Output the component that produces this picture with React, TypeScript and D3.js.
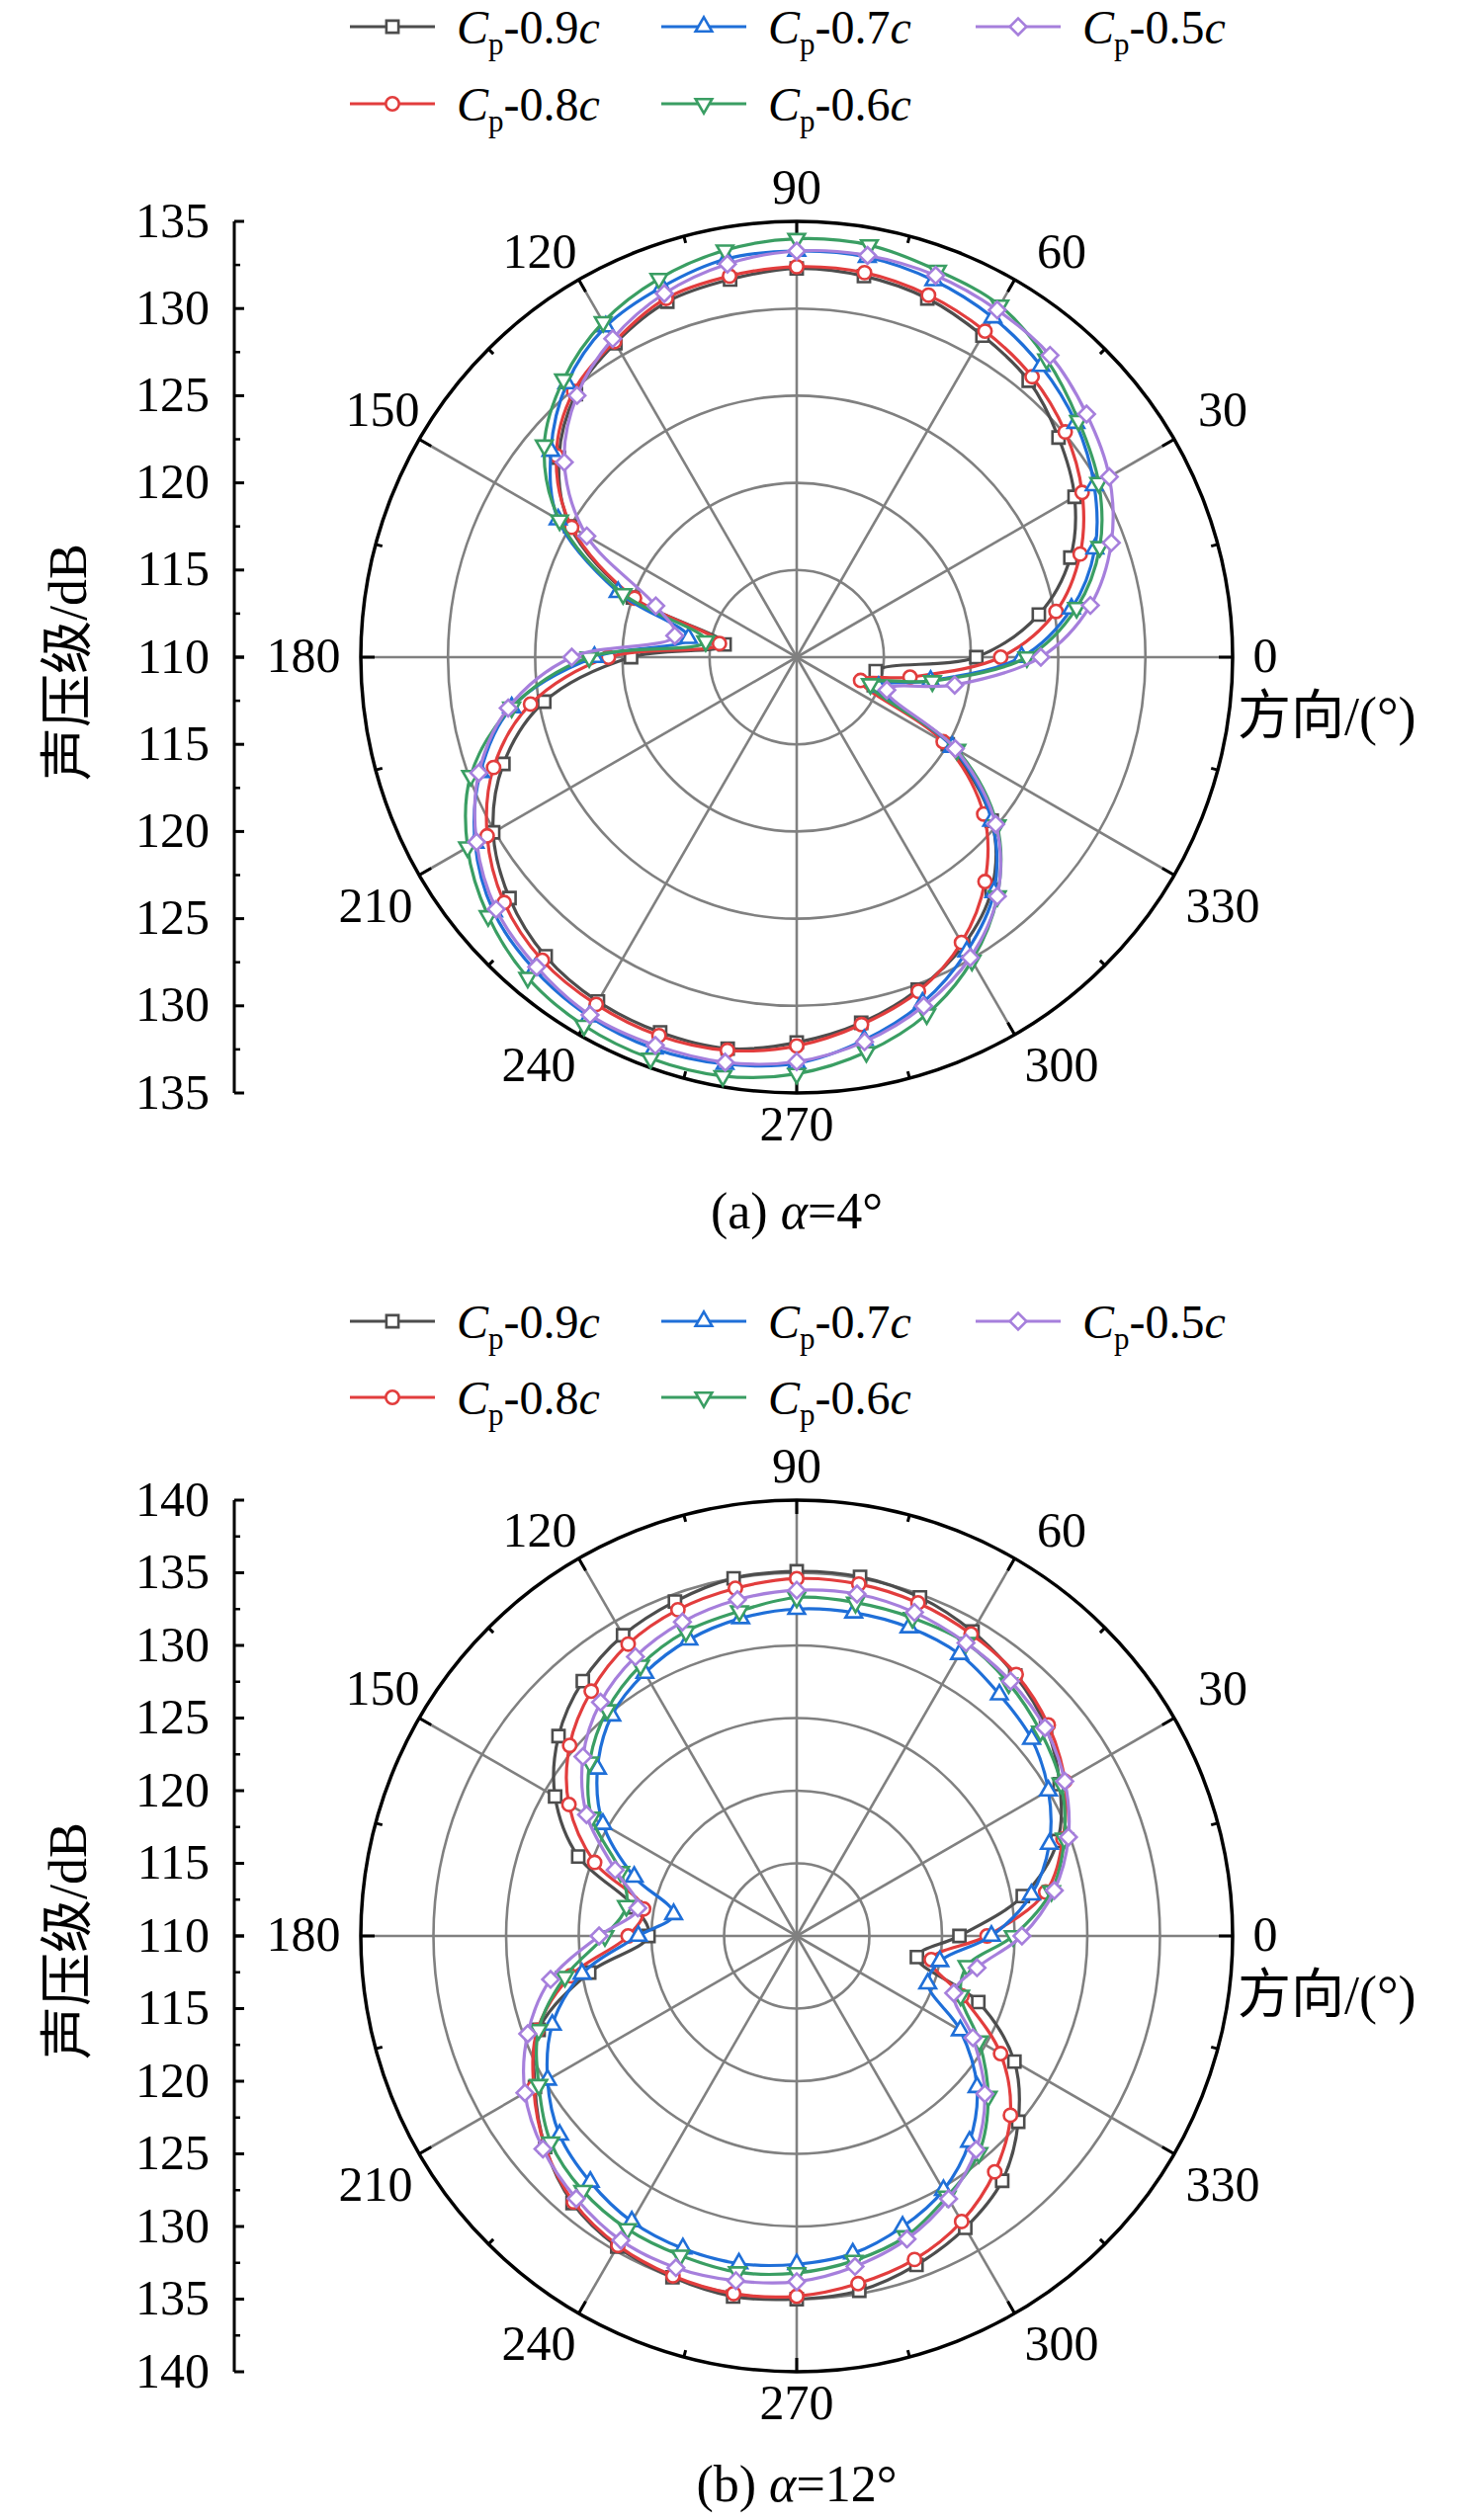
import React from 'react';
import * as d3 from 'd3';

// directions, degrees (0 = right, counter-clockwise)
const ANGLES = [0, 10, 20, 30, 40, 50, 60, 70, 80, 90, 100, 110, 120, 130, 140, 150, 160, 170,
  180, 190, 200, 210, 220, 230, 240, 250, 260, 270, 280, 290, 300, 310, 320, 330, 340, 350];
const ANGLE_LABELS = [0, 30, 60, 90, 120, 150, 180, 210, 240, 270, 300, 330];

const SERIES_KEYS = ['0.9', '0.8', '0.7', '0.6', '0.5'];

// (a) alpha = 4 deg, SPL in dB
const A_09 = [120.3, 124.1, 126.7, 128.4, 129.6, 130.7, 131.3, 131.9, 132.2, 132.3, 132.0, 131.7,
  130.8, 129.7, 127.8, 125.0, 120.0, 114.2, 119.5, 124.7, 127.9, 130.1, 131.5, 132.4,
  132.8, 132.9, 132.8, 132.1, 131.3, 130.3, 129.1, 127.4, 124.6, 120.0, 114.7, 114.6];
const A_08 = [121.7, 125.1, 127.3, 128.9, 130.1, 131.0, 131.6, 132.1, 132.4, 132.4, 132.2, 131.9,
  130.9, 129.9, 128.0, 124.9, 119.9, 114.5, 120.8, 125.5, 128.5, 130.5, 131.9, 132.7,
  133.0, 133.1, 132.9, 132.3, 131.4, 130.4, 128.9, 126.8, 124.0, 119.7, 113.9, 116.6];
const A_07 = [122.9, 126.0, 128.2, 129.7, 130.9, 131.8, 132.5, 133.0, 133.3, 133.3, 133.2, 132.6,
  131.9, 130.5, 128.4, 125.8, 120.9, 116.3, 121.6, 126.6, 129.3, 131.3, 132.7, 133.4,
  133.8, 133.9, 133.7, 133.3, 132.3, 131.1, 129.5, 127.6, 124.6, 120.3, 115.0, 117.8];
const A_06 = [123.2, 126.3, 128.5, 130.0, 131.1, 132.3, 133.3, 133.6, 134.0, 134.0, 133.7, 133.1,
  132.2, 130.8, 128.9, 125.7, 120.6, 115.3, 121.9, 126.6, 129.9, 131.8, 133.1, 134.0,
  134.4, 134.5, 134.4, 133.9, 133.0, 131.8, 130.1, 127.9, 125.0, 120.6, 114.5, 117.9];
const A_05 = [124.0, 127.1, 129.2, 130.7, 131.7, 132.6, 133.0, 133.3, 133.4, 133.3, 132.9, 132.2,
  131.1, 129.6, 127.4, 123.9, 118.6, 117.1, 122.9, 126.8, 129.4, 131.2, 132.5, 133.2,
  133.7, 133.7, 133.6, 133.2, 132.4, 131.3, 129.9, 127.9, 124.9, 120.5, 115.5, 119.2];

// (b) alpha = 12 deg
const B_09 = [121.2, 125.8, 129.1, 130.9, 132.4, 133.4, 134.2, 134.8, 135.1, 135.1, 135.0, 134.5,
  133.9, 132.9, 131.4, 129.2, 126.0, 121.3, 120.2, 124.5, 128.9, 130.8, 132.6, 134.0,
  134.7, 135.0, 135.2, 135.0, 134.8, 134.1, 133.2, 132.0, 129.9, 127.3, 123.3, 118.4];
const B_08 = [123.1, 127.4, 129.5, 131.3, 132.6, 133.5, 134.0, 134.4, 134.6, 134.6, 134.3, 133.9,
  133.2, 132.0, 130.4, 128.1, 124.8, 120.7, 121.6, 125.8, 129.0, 130.9, 132.6, 133.9,
  134.6, 134.9, 135.0, 134.8, 134.3, 133.7, 132.7, 131.2, 129.2, 126.2, 122.1, 119.4];
const B_07 = [123.4, 126.4, 128.5, 130.0, 131.1, 131.7, 132.4, 132.6, 132.6, 132.5, 132.2, 131.7,
  130.9, 129.8, 127.9, 125.4, 121.9, 118.6, 120.9, 125.0, 127.9, 129.8, 131.3, 132.1,
  132.7, 132.9, 132.9, 132.6, 132.2, 131.3, 130.2, 128.5, 126.2, 123.0, 119.6, 120.0];
const B_06 = [124.9, 127.8, 129.6, 131.0, 131.9, 132.7, 133.3, 133.3, 133.3, 133.3, 132.7, 132.3,
  131.5, 130.3, 128.6, 126.3, 122.9, 121.9, 123.2, 126.2, 128.9, 130.5, 132.1, 132.9,
  133.3, 133.4, 133.5, 133.2, 132.7, 132.0, 130.7, 129.5, 127.2, 124.5, 122.0, 121.9];
const B_05 = [125.5, 128.0, 129.9, 131.3, 132.3, 132.9, 133.3, 133.7, 133.9, 133.8, 133.5, 133.0,
  132.2, 131.0, 129.2, 126.7, 123.3, 121.1, 123.6, 127.2, 129.7, 131.6, 132.8, 133.6,
  134.2, 134.3, 134.1, 133.8, 133.1, 132.2, 130.9, 129.2, 126.9, 124.0, 121.5, 122.6];

const COLORS: Record<string, string> = {
  '0.9': '#4d4d4d',
  '0.8': '#e23d3d',
  '0.7': '#1f6fd8',
  '0.6': '#3a9e63',
  '0.5': '#a67fdc',
};

const FONT = "'Liberation Serif', 'Times New Roman', Times, serif";
const CJK_FONT = "'Liberation Serif', 'Noto Sans CJK SC', serif";
const R = 441;
const CX = 806;

// where each angle label's centre sits relative to the pole (Origin puts the box just outside the rim)
const LABEL_POS: Record<number, [number, number]> = {
  0: [474, -3], 30: [431, -252], 60: [268, -412], 90: [0, -477],
  120: [-260, -412], 150: [-419, -252], 180: [-499, -3], 210: [-426, 250],
  240: [-261, 411], 270: [0, 471], 300: [268, 411], 330: [431, 250],
};

const markerPath = (key: string): string => {
  if (key === '0.9') return d3.symbol(d3.symbolSquare, 150)() || '';
  if (key === '0.8') return d3.symbol(d3.symbolCircle, 140)() || '';
  if (key === '0.7' || key === '0.6') return d3.symbol(d3.symbolTriangle, 120)() || '';
  return d3.symbol(d3.symbolSquare, 140)() || '';
};

const markerRotate = (key: string) => (key === '0.6' ? 180 : key === '0.5' ? 45 : 0);

const Marker: React.FC<{ k: string; x: number; y: number }> = ({ k, x, y }) => (
  <path
    d={markerPath(k)}
    transform={`translate(${x},${y}) rotate(${markerRotate(k)})`}
    fill="#ffffff"
    stroke={COLORS[k]}
    strokeWidth={2.6}
  />
);

const LegendLabel: React.FC<{ k: string; x: number; y: number }> = ({ k, x, y }) => (
  <text x={x} y={y} fontFamily={FONT} fontSize={48} fill="#000">
    <tspan fontStyle="italic">C</tspan>
    <tspan fontSize={31} dy={11}>p</tspan>
    <tspan dy={-11}>-{k}</tspan>
    <tspan fontStyle="italic">c</tspan>
  </text>
);

interface PanelProps {
  cy: number;
  domain: [number, number];
  data: number[][];
  legendY: [number, number];
  captionY: number;
  tag: string;
  alphaText: string;
}

const PolarPanel: React.FC<PanelProps> = ({ cy, domain, data, legendY, captionY, tag, alphaText }) => {
  const r = d3.scaleLinear().domain(domain).range([0, R]);
  const ticks = d3.range(domain[0], domain[1] + 0.01, 5);
  const minor = d3.range(domain[0] + 2.5, domain[1], 5);
  const rings = ticks.filter((v) => v > domain[0] && v < domain[1]);
  const rad = (a: number) => (a * Math.PI) / 180;

  const line = d3
    .lineRadial<number>()
    .angle((_, i) => rad(90 - ANGLES[i]))
    .radius((d) => r(d))
    .curve(d3.curveCatmullRomClosed.alpha(0.5));

  const legendCols = [354, 669, 987];
  const legendItems = [
    { k: '0.9', col: 0, row: 0 },
    { k: '0.7', col: 1, row: 0 },
    { k: '0.5', col: 2, row: 0 },
    { k: '0.8', col: 0, row: 1 },
    { k: '0.6', col: 1, row: 1 },
  ];

  return (
    <g>
      {/* legend */}
      {legendItems.map((it) => {
        const x0 = legendCols[it.col];
        const y = legendY[it.row];
        return (
          <g key={it.k}>
            <line x1={x0} x2={x0 + 86} y1={y} y2={y} stroke={COLORS[it.k]} strokeWidth={3} />
            <Marker k={it.k} x={x0 + 43} y={y} />
            <LegendLabel k={it.k} x={x0 + 108} y={y + 17} />
          </g>
        );
      })}

      {/* radial axis on the left */}
      <line x1={237} x2={237} y1={cy - R} y2={cy + R} stroke="#000" strokeWidth={3} />
      {ticks.map((v) => (
        <g key={`t${v}`}>
          {[-1, 1].map((s) => (
            <g key={s}>
              <line x1={237} x2={247} y1={cy + s * r(v)} y2={cy + s * r(v)} stroke="#000" strokeWidth={3} />
              {(v !== domain[0] || s === 1) && (
                <text x={212} y={cy + s * r(v) - 2} dy="0.35em" textAnchor="end" fontFamily={FONT} fontSize={50}>
                  {v}
                </text>
              )}
            </g>
          ))}
        </g>
      ))}
      {minor.map((v) =>
        [-1, 1].map((s) => (
          <line key={`m${v}${s}`} x1={237} x2={243} y1={cy + s * r(v)} y2={cy + s * r(v)} stroke="#000" strokeWidth={2.5} />
        ))
      )}
      <text
        transform={`translate(68,${cy + 5}) rotate(-90)`}
        textAnchor="middle"
        dy="0.35em"
        fontFamily={CJK_FONT}
        fontSize={54}
      >
        声压级/dB
      </text>

      {/* polar grid */}
      <g transform={`translate(${CX},${cy})`}>
        {rings.map((v) => (
          <circle key={v} r={r(v)} fill="none" stroke="#808080" strokeWidth={2.6} />
        ))}
        {ANGLE_LABELS.map((a) => (
          <line key={a} x1={0} y1={0} x2={R * Math.cos(rad(a))} y2={-R * Math.sin(rad(a))} stroke="#808080" strokeWidth={2.6} />
        ))}
        <circle r={R} fill="none" stroke="#000" strokeWidth={3.5} />
        {d3.range(0, 360, 15).map((a) => {
          const len = a % 30 === 0 ? 14 : 7;
          const c = Math.cos(rad(a));
          const s = Math.sin(rad(a));
          return <line key={`k${a}`} x1={R * c} y1={-R * s} x2={(R - len) * c} y2={-(R - len) * s} stroke="#000" strokeWidth={3} />;
        })}
        {ANGLE_LABELS.map((a) => (
          <text
            key={`l${a}`}
            x={LABEL_POS[a][0]}
            y={LABEL_POS[a][1]}
            dy="0.35em"
            textAnchor="middle"
            fontFamily={FONT}
            fontSize={50}
          >
            {a}
          </text>
        ))}
        <text x={446} y={59} dy="0.36em" fontFamily={CJK_FONT} fontSize={54}>
          方向/(°)
        </text>

        {/* series */}
        {data.map((vals, si) => {
          const k = SERIES_KEYS[si];
          return (
            <g key={k}>
              <path d={line(vals) || ''} fill="none" stroke={COLORS[k]} strokeWidth={3.2} />
              {vals.map((v, i) => (
                <Marker key={i} k={k} x={r(v) * Math.cos(rad(ANGLES[i]))} y={-r(v) * Math.sin(rad(ANGLES[i]))} />
              ))}
            </g>
          );
        })}
      </g>

      <text x={CX} y={captionY} dy="0.35em" textAnchor="middle" fontFamily={FONT} fontSize={52}>
        {tag} <tspan fontStyle="italic">α</tspan>={alphaText}°
      </text>
    </g>
  );
};

export default function App() {
  return (
    <div style={{ position: 'absolute', left: 0, top: 0, background: '#fff' }}>
      <svg width={1476} height={2550} viewBox="0 0 1476 2550" style={{ display: 'block' }}>
        <rect width={1476} height={2550} fill="#fff" />
        <PolarPanel
          cy={665}
          domain={[110, 135]}
          data={[A_09, A_08, A_07, A_06, A_05]}
          legendY={[27, 105]}
          captionY={1225}
          tag="(a)"
          alphaText="4"
        />
        <PolarPanel
          cy={1959}
          domain={[110, 140]}
          data={[B_09, B_08, B_07, B_06, B_05]}
          legendY={[1337, 1414]}
          captionY={2513}
          tag="(b)"
          alphaText="12"
        />
      </svg>
    </div>
  );
}
